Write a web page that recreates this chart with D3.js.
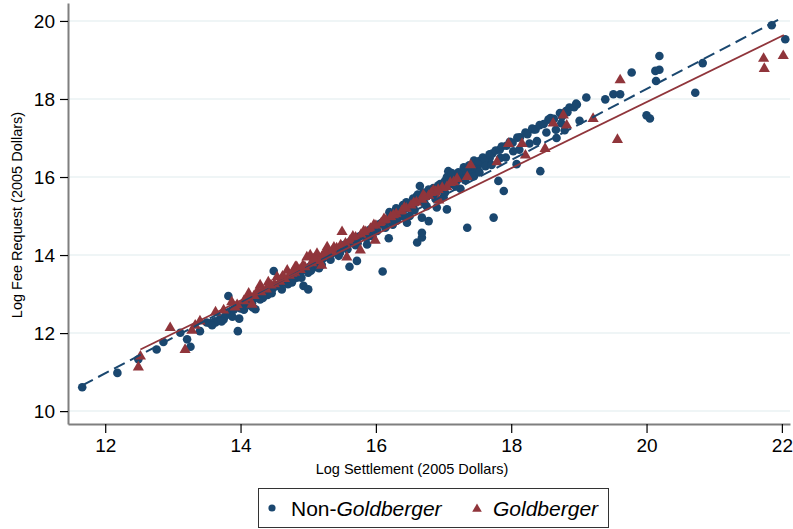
<!DOCTYPE html>
<html>
<head>
<meta charset="utf-8">
<script src="https://cdn.jsdelivr.net/npm/d3@7"></script>
<style>
  body { margin: 0; background: #fff; }
  text { font-family: "Liberation Sans", Arial, sans-serif; }
</style>
</head>
<body>
<svg id="chart"></svg>
<script>
'use strict';

// tick values
let xTicks = [12, 14, 16, 18, 20, 22];
let yTicks = [10, 12, 14, 16, 18, 20];

// fitted lines, endpoints
let nonGoldFit = [[11.66, 10.66], [21.97, 20.05]];
let goldFit = [[12.52, 11.58], [22.03, 19.64]];

// Non-Goldberger cases [log settlement, log fee request]
let nonGoldberger = [
  [11.66,10.61],[12.18,10.98],[12.49,11.33],[12.76,11.58],[12.86,11.77],[13.11,12.01],[13.21,11.84],
  [13.26,11.65],[13.50,12.27],[13.63,12.27],[13.75,12.35],[13.96,12.05],[13.98,12.37],[14.00,12.63],
  [14.22,12.61],[14.29,12.86],[13.82,12.95],[14.17,12.76],[14.49,13.59],[14.56,13.21],[14.83,13.42],
  [14.86,13.46],[14.93,13.21],[15.00,13.12],[15.05,13.68],[15.08,13.68],[15.61,13.70],[15.72,13.85],
  [16.10,13.58],[15.87,14.27],[15.92,14.53],[16.19,14.43],[16.33,14.96],[16.46,14.83],[16.61,14.32],
  [16.68,14.45],[16.68,14.57],[16.68,14.96],[16.78,14.87],[16.65,15.77],[16.90,15.22],[17.05,15.17],
  [17.07,16.15],[17.35,14.70],[17.74,14.96],[17.81,15.90],[17.89,15.64],[18.08,16.33],[18.43,16.15],
  [18.33,17.22],[18.55,17.47],[18.97,17.86],[19.01,17.44],[19.11,18.04],[19.39,17.99],[19.51,18.12],
  [19.61,18.12],[19.78,18.68],[20.00,17.58],[20.05,17.50],[20.13,18.72],[20.19,19.10],[20.14,18.46],
  [20.19,18.75],[20.72,18.16],[20.83,18.92],[21.85,19.89],[22.05,19.53],[18.83,17.66],[18.75,17.55],
  [18.79,17.20],[18.67,17.00],
  [13.40,12.05],[13.55,12.25],[13.62,12.30],[13.70,12.38],[13.78,12.45],[13.85,12.52],[13.90,12.60],
  [14.02,12.70],[14.08,12.75],[14.12,12.82],[14.20,12.88],[14.25,12.95],[14.30,12.98],[14.35,13.05],
  [14.42,13.10],[14.48,13.15],[14.52,13.22],[14.58,13.25],[14.62,13.32],[14.68,13.36],[14.72,13.40],
  [14.78,13.45],[14.82,13.52],[14.88,13.55],[14.92,13.62],[14.98,13.66],[15.02,13.70],[15.06,13.76],
  [15.10,13.78],[15.15,13.85],[15.18,13.88],[15.22,13.92],[15.26,13.96],[15.30,14.02],[15.35,14.05],
  [15.40,14.10],[15.44,14.16],[15.48,14.18],[15.52,14.25],[15.56,14.28],[15.60,14.32],[15.64,14.36],
  [15.68,14.40],[15.72,14.45],[15.76,14.48],[15.80,14.52],[15.84,14.58],[15.88,14.60],[15.92,14.66],
  [15.96,14.70],[16.00,14.72],[16.04,14.78],[16.08,14.82],[16.12,14.86],[16.16,14.90],[16.20,14.92],
  [16.24,15.00],[16.28,15.02],[16.32,15.06],[16.36,15.12],[16.40,15.14],[16.44,15.20],[16.48,15.22],
  [16.52,15.28],[16.56,15.30],[16.60,15.36],[16.65,15.40],[16.70,15.45],[16.75,15.50],[16.80,15.55],
  [16.85,15.58],[16.90,15.64],[16.95,15.68],[17.00,15.72],[17.05,15.78],[17.10,15.82],[17.15,15.88],
  [17.20,15.92],[17.28,16.00],[17.35,16.08],[17.42,16.15],[17.50,16.22],
  [14.15,12.70],[14.40,12.98],[14.70,13.25],[15.00,13.55],[15.20,13.75],[15.45,13.98],[15.70,14.25],
  [15.95,14.48],[16.25,14.78],[16.50,15.00],[16.75,15.25],[17.00,15.48],[17.25,15.70],
  [16.30,15.20],[16.45,15.35],[16.60,15.50],[16.70,15.60],[16.85,15.72],[16.95,15.82],[17.10,15.95],
  [17.20,16.05],
  [13.58,12.20],[13.72,12.30],[13.88,12.42],[14.05,12.60],[14.18,12.66],[14.33,12.90],[14.46,13.02],
  [14.61,13.12],[14.76,13.30],[14.90,13.42],[15.04,13.60],[15.16,13.66],[15.33,13.88],[15.47,14.06],
  [15.58,14.15],[15.73,14.30],[15.86,14.44],[16.02,14.62],[16.14,14.70],[16.31,14.88],[16.42,14.98],
  [16.57,15.15],[16.72,15.32],[16.88,15.44],[17.02,15.60],[17.18,15.76],[17.32,15.92],[17.45,16.02],
  [16.20,15.10],[16.40,15.28],[16.55,15.45],[16.62,15.55],[16.78,15.68],[16.92,15.78],[17.02,15.90],
  [17.15,16.00],[17.30,16.18],[17.40,16.28],[17.47,16.35],
  [17.05,16.00],[17.12,16.10],[17.22,16.12],[17.30,16.25],[17.38,16.30],[17.45,16.42],[17.55,16.35],
  [17.62,16.40],[17.68,16.48],
  [17.52,16.40],[17.58,16.50],[17.61,16.46],[17.68,16.58],[17.72,16.60],[17.77,16.68],[17.83,16.70],
  [17.86,16.78],[17.93,16.80],[17.98,16.90],[18.02,16.88],[18.09,17.01],[18.13,17.02],[18.21,17.14],
  [18.24,17.10],[18.31,17.24],[18.36,17.22],[18.42,17.33],[18.48,17.36],[18.58,17.51],[18.63,17.49],
  [18.72,17.64],[18.81,17.69],[18.86,17.78],[18.93,17.79],[18.96,17.88],
  [17.53,16.12],[17.62,16.28],[17.71,16.31],[17.84,16.49],[17.92,16.50],[18.03,16.66],[18.12,16.70],
  [18.27,16.86],[18.38,16.92],[18.52,17.14],[18.66,17.21],[18.74,17.38]
];

// Goldberger cases [log settlement, log fee request]
let goldberger = [
  [12.49,11.15],[12.52,11.43],[12.96,12.16],[13.18,11.60],[13.28,12.09],[13.33,12.22],[13.40,12.33],
  [13.63,12.56],[13.75,12.61],[13.87,12.82],[13.92,12.69],[14.17,12.76],[14.12,13.04],[14.29,13.25],
  [14.41,13.33],[14.54,13.46],[14.69,13.63],[14.81,13.72],[14.98,13.97],[15.13,14.06],[15.28,14.23],
  [15.03,14.02],[14.83,13.72],[15.13,13.89],[15.20,13.76],[15.50,14.62],[15.57,13.97],[15.77,14.15],
  [15.99,14.40],[16.70,15.56],[16.85,15.68],[17.05,15.77],[17.15,15.90],[17.35,16.03],[16.93,15.43],
  [17.40,16.33],[17.79,16.41],[17.96,16.88],[18.16,16.88],[18.21,16.58],[18.50,16.75],[18.62,17.40],
  [18.77,17.61],[18.82,17.35],[19.21,17.52],[19.57,16.98],[19.61,18.51],[21.73,19.06],[21.74,18.80],
  [22.02,19.13],
  [13.95,12.75],[14.05,12.85],[14.20,12.98],[14.30,13.08],[14.38,13.15],[14.50,13.28],[14.58,13.35],
  [14.65,13.42],[14.72,13.50],[14.80,13.58],[14.88,13.65],[14.95,13.72],[15.05,13.82],[15.12,13.88],
  [15.20,13.98],[15.28,14.05],[15.35,14.12],[15.42,14.20],[15.55,14.32],[15.62,14.40],[15.70,14.48],
  [15.78,14.55],[15.85,14.62],[15.92,14.70],[16.00,14.78],[16.08,14.85],[16.15,14.92],[16.22,15.00],
  [16.30,15.08],[16.38,15.15],[16.45,15.22],[16.52,15.30],[16.60,15.38],[16.68,15.45],[16.78,15.55],
  [16.88,15.65],[16.98,15.75],[17.10,15.88],[17.20,15.98],
  [14.10,12.92],[14.25,13.10],[14.45,13.25],[14.62,13.48],[14.76,13.55],[14.92,13.75],[15.08,13.92],
  [15.24,14.08],[15.38,14.22],[15.48,14.28],[15.66,14.50],[15.82,14.64],[15.97,14.80],[16.12,14.95],
  [16.26,15.05],[16.42,15.24],[16.56,15.36],[16.72,15.52],[16.82,15.62],[16.92,15.70]
];

let blue = "#1a476f";
let maroon = "#90353b";

function getChartConfig() {
    let width = 793, height = 529;
    let svg = d3.select("#chart")
        .attr("width", width)
        .attr("height", height);
    let plot = { left: 68, right: 790, top: 3, bottom: 424 };
    return { width, height, svg, plot };
}

function getScales(config) {
    let { plot } = config;
    let xScale = d3.scaleLinear()
        .domain([11.45, 22.12])
        .range([plot.left, plot.right]);
    let yScale = d3.scaleLinear()
        .domain([9.67, 20.46])
        .range([plot.bottom, plot.top]);
    return { xScale, yScale };
}

function drawGrid(config, scales) {
    let { svg, plot } = config;
    let { yScale } = scales;
    svg.append("g").selectAll("line")
        .data(yTicks)
        .enter().append("line")
        .attr("x1", plot.left)
        .attr("x2", plot.right)
        .attr("y1", d => yScale(d))
        .attr("y2", d => yScale(d))
        .style("stroke", "#eaf2f3")
        .style("stroke-width", 1.5);
}

function drawAxis(config, scales) {
    let { svg, plot } = config;
    let { xScale, yScale } = scales;

    let yAxis = d3.axisLeft(yScale).tickValues(yTicks).tickSize(8).tickSizeOuter(0).tickPadding(5);
    let gy = svg.append("g")
        .attr("transform", "translate(" + plot.left + ",0)")
        .call(yAxis);
    gy.select(".domain").style("stroke", "#7f7f7f").style("stroke-width", 2);
    gy.selectAll(".tick line").style("stroke", "#000").style("stroke-width", 1.2);
    gy.selectAll(".tick text").style("font-size", "19px").attr("fill", "#000");

    let xAxis = d3.axisBottom(xScale).tickValues(xTicks).tickSize(9).tickSizeOuter(0).tickPadding(6);
    let gx = svg.append("g")
        .attr("transform", "translate(0," + plot.bottom + ")")
        .call(xAxis);
    gx.select(".domain").style("stroke", "#7f7f7f").style("stroke-width", 2);
    gx.selectAll(".tick line").style("stroke", "#000").style("stroke-width", 1.2);
    gx.selectAll(".tick text").style("font-size", "19px").attr("fill", "#000");

    // axis titles
    svg.append("text")
        .attr("transform", "translate(22,215) rotate(-90)")
        .style("text-anchor", "middle")
        .style("font-size", "14.5px")
        .text("Log Fee Request (2005 Dollars)");

    svg.append("text")
        .attr("x", 412)
        .attr("y", 474)
        .style("text-anchor", "middle")
        .style("font-size", "14.5px")
        .text("Log Settlement (2005 Dollars)");
}

function drawPoints(config, scales) {
    let { svg } = config;
    let { xScale, yScale } = scales;

    let circle = d3.symbol().type(d3.symbolCircle).size(58);
    let triangle = d3.symbol().type(d3.symbolTriangle).size(54);

    svg.append("g").selectAll("path")
        .data(nonGoldberger)
        .enter().append("path")
        .attr("d", circle)
        .attr("transform", d => "translate(" + xScale(d[0]) + "," + yScale(d[1]) + ")")
        .attr("fill", blue);

    svg.append("g").selectAll("path")
        .data(goldberger)
        .enter().append("path")
        .attr("d", triangle)
        .attr("transform", d => "translate(" + xScale(d[0]) + "," + (yScale(d[1]) + 1) + ")")
        .attr("fill", maroon);
}

function drawFits(config, scales) {
    let { svg } = config;
    let { xScale, yScale } = scales;
    let line = d3.line().x(d => xScale(d[0])).y(d => yScale(d[1]));

    svg.append("path")
        .datum(nonGoldFit)
        .attr("d", line)
        .attr("fill", "none")
        .attr("stroke", blue)
        .attr("stroke-width", 2)
        .attr("stroke-dasharray", "12,6");

    svg.append("path")
        .datum(goldFit)
        .attr("d", line)
        .attr("fill", "none")
        .attr("stroke", maroon)
        .attr("stroke-width", 1.8);
}

function drawLegend(config) {
    let { svg } = config;
    let g = svg.append("g");

    g.append("rect")
        .attr("x", 258.5).attr("y", 488.5)
        .attr("width", 350).attr("height", 39)
        .attr("fill", "#fff")
        .attr("stroke", "#333")
        .attr("stroke-width", 1);

    g.append("path")
        .attr("d", d3.symbol().type(d3.symbolCircle).size(40)())
        .attr("transform", "translate(272,508)")
        .attr("fill", blue);

    let t1 = g.append("text")
        .attr("x", 291).attr("y", 516)
        .style("font-size", "21px");
    t1.append("tspan").text("Non-");
    t1.append("tspan").style("font-style", "italic").text("Goldberger");

    g.append("path")
        .attr("d", d3.symbol().type(d3.symbolTriangle).size(40)())
        .attr("transform", "translate(477,509)")
        .attr("fill", maroon);

    g.append("text")
        .attr("x", 493).attr("y", 516)
        .style("font-size", "21px")
        .style("font-style", "italic")
        .text("Goldberger");
}

function drawChart() {
    let config = getChartConfig();
    let scales = getScales(config);
    drawGrid(config, scales);
    drawAxis(config, scales);
    drawPoints(config, scales);
    drawFits(config, scales);
    drawLegend(config);
}

drawChart();
</script>
</body>
</html>
